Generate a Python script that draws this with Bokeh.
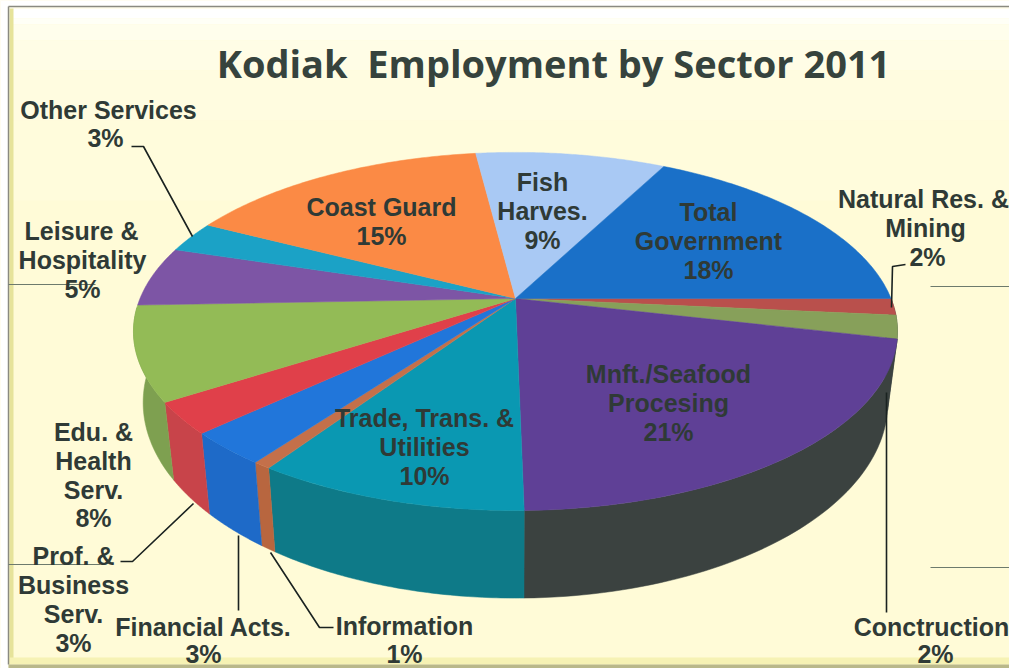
import numpy as np
from bokeh.plotting import figure
from bokeh.models import Range1d
from bokeh.core.properties import value
from bokeh.embed import file_html
from bokeh.resources import INLINE

# ---- data: clockwise from the east edge of the pie
sectors = ["Natural Res. & Mining", "Conctruction", "Mnft./Seafood Procesing",
           "Trade, Trans. & Utilities", "Information", "Financial Acts.",
           "Prof. & Business Serv.", "Edu. & Health Serv.", "Leisure & Hospitality",
           "Other Services", "Coast Guard", "Fish Harves.", "Total Government"]
shares = [1.5, 2.1, 21.1, 9.7, 0.65, 3.0, 2.85, 8.5, 5.4, 2.8, 15.4, 9.6, 17.4]
top_colors = ["#b9504c", "#87a05a", "#5f4096", "#0a98b2", "#c4704a", "#2176da",
              "#e0404a", "#93bb56", "#7d55a5", "#1ba2c6", "#fb8a45", "#a9c9f4", "#1a70c8"]
side_colors = ["#3b4240", "#3b4240", "#3b4240", "#0e7a88", "#b8663f", "#1e6ac8",
               "#c8444a", "#7ea050", "#65458a", "#17829f", "#c96e37", "#88a2c4", "#155aa0"]

title = "Kodiak\u00a0 Employment by Sector 2011"
# text lines: (line, centre x, centre y)
labels = [
    ("Other Services", 108, 109), ("3%", 105, 137),
    ("Leisure &", 81, 230), ("Hospitality", 82, 259), ("5%", 82, 288),
    ("Edu. &", 93, 431), ("Health", 93, 460), ("Serv.", 93, 489), ("8%", 93, 517),
    ("Prof. &", 73, 555), ("Business", 73, 584), ("Serv.", 73, 613), ("3%", 73, 642),
    ("Financial Acts.", 203, 626), ("3%", 203, 653),
    ("Information", 404, 625), ("1%", 404, 653),
    ("Conctruction", 931, 626), ("2%", 935, 653),
    ("Natural Res. &", 923, 198), ("Mining", 925, 227), ("2%", 927, 256),
    ("Coast Guard", 381, 206), ("15%", 381, 235),
    ("Fish", 542, 181), ("Harves.", 542, 210), ("9%", 542, 239),
    ("Total", 708, 211), ("Government", 708, 240), ("18%", 708, 269),
    ("Mnft./Seafood", 668, 373), ("Procesing", 668, 402), ("21%", 668, 431),
    ("Trade, Trans. &", 424, 417), ("Utilities", 424, 446), ("10%", 424, 475),
]

# ---- layout
cx, cy = 515.0, 298.0
Rx, Ry, k = 375.5, 173.0, 0.184
cy_low, Rx_low, Ry_low = 366.0, 366.0, 189.0

def top(t):
    u, v = np.cos(t), np.sin(t)
    w = 1 - k * v
    return cx + Rx * u / w, cy + Ry * v / w

def bottom(t):
    u, v = np.cos(t), np.sin(t)
    w = 1 - k * v
    return cx + Rx_low * u / w, cy_low + Ry_low * v / w

p = figure(width=1009, height=668, x_range=Range1d(0, 1009), y_range=Range1d(668, 0),
           output_backend="svg", toolbar_location=None, min_border=0)
p.axis.visible = False
p.grid.visible = False
p.outline_line_color = None
p.background_fill_color = "#fffbd9"
p.border_fill_color = "#ffffff"

# background wash
edges = np.array([8, 18, 24, 40, 70, 120, 200, 660])
fills = ["#ffffff", "#fffff6", "#fffeec", "#fffde6", "#fffce0", "#fffcdc", "#fffbd7"]
p.quad(left=8, right=1009, top=edges[:-1], bottom=edges[1:], fill_color=fills, line_color=None)
p.quad(left=0, right=8, top=0, bottom=668, fill_color="#ffffff", line_color=None)
p.quad(left=0, right=1009, top=0, bottom=7, fill_color="#ffffff", line_color=None)
p.quad(left=9, right=13, top=8, bottom=660, fill_color="#e6e39a", line_color=None)
p.quad(left=8, right=1009, top=657, bottom=664, fill_color="#f6f2b4", line_color=None)
p.quad(left=8, right=1009, top=664, bottom=668, fill_color="#b9b88a", line_color=None)
p.segment(x0=[8, 8], y0=[6, 6], x1=[8, 1009], y1=[664, 6], line_color="#8a8a80", line_width=1.5)

# scan marks
p.segment(x0=[8, 930, 8, 930], y0=[284, 286, 564, 567], x1=[95, 1009, 100, 1009], y1=[284, 286, 564, 567],
          line_color="#6d7a6c", line_width=1)

# pie walls (front half only), then the top faces
edges_t = np.radians(np.cumsum([0] + shares) * 3.6)
for i in range(len(shares)):
    a, b = edges_t[i], edges_t[i + 1]
    lo, hi = max(a, 0.0), min(b, np.radians(177))
    if hi > lo:
        ts = np.linspace(lo, hi, 60)
        xt, yt = top(ts)
        xb, yb = bottom(ts[::-1])
        p.patch(np.r_[xt, xb], np.r_[yt, yb], fill_color=side_colors[i], line_color=side_colors[i], line_width=0.5)
for i in range(len(shares)):
    ts = np.linspace(edges_t[i], edges_t[i + 1], 80)
    xt, yt = top(ts)
    p.patch(np.r_[cx, xt], np.r_[cy, yt], fill_color=top_colors[i], line_color=top_colors[i], line_width=0.5)

# leaders
lead_x = [[131, 143, 192], [905, 892, 891], [886, 886], [120, 132, 193], [238, 238], [333, 319, 270]]
lead_y = [[146, 146, 236], [264, 266, 307], [612, 392], [561, 561, 503], [610, 535], [627, 627, 552]]
p.multi_line(lead_x, lead_y, line_color="#1a2220", line_width=1.6)

p.text([553], [62], text=[title], text_font=value("Open Sans"), text_font_style="bold",
       text_font_size="38px", text_color="#36433d", text_align="center", text_baseline="middle")
p.text([l[1] for l in labels], [l[2] for l in labels], text=[l[0] for l in labels],
       text_font=value("Liberation Sans"), text_font_style="bold", text_font_size="25px",
       text_color="#2f3a36", text_align="center", text_baseline="middle")

open("out.html", "w").write(file_html(p, INLINE))
